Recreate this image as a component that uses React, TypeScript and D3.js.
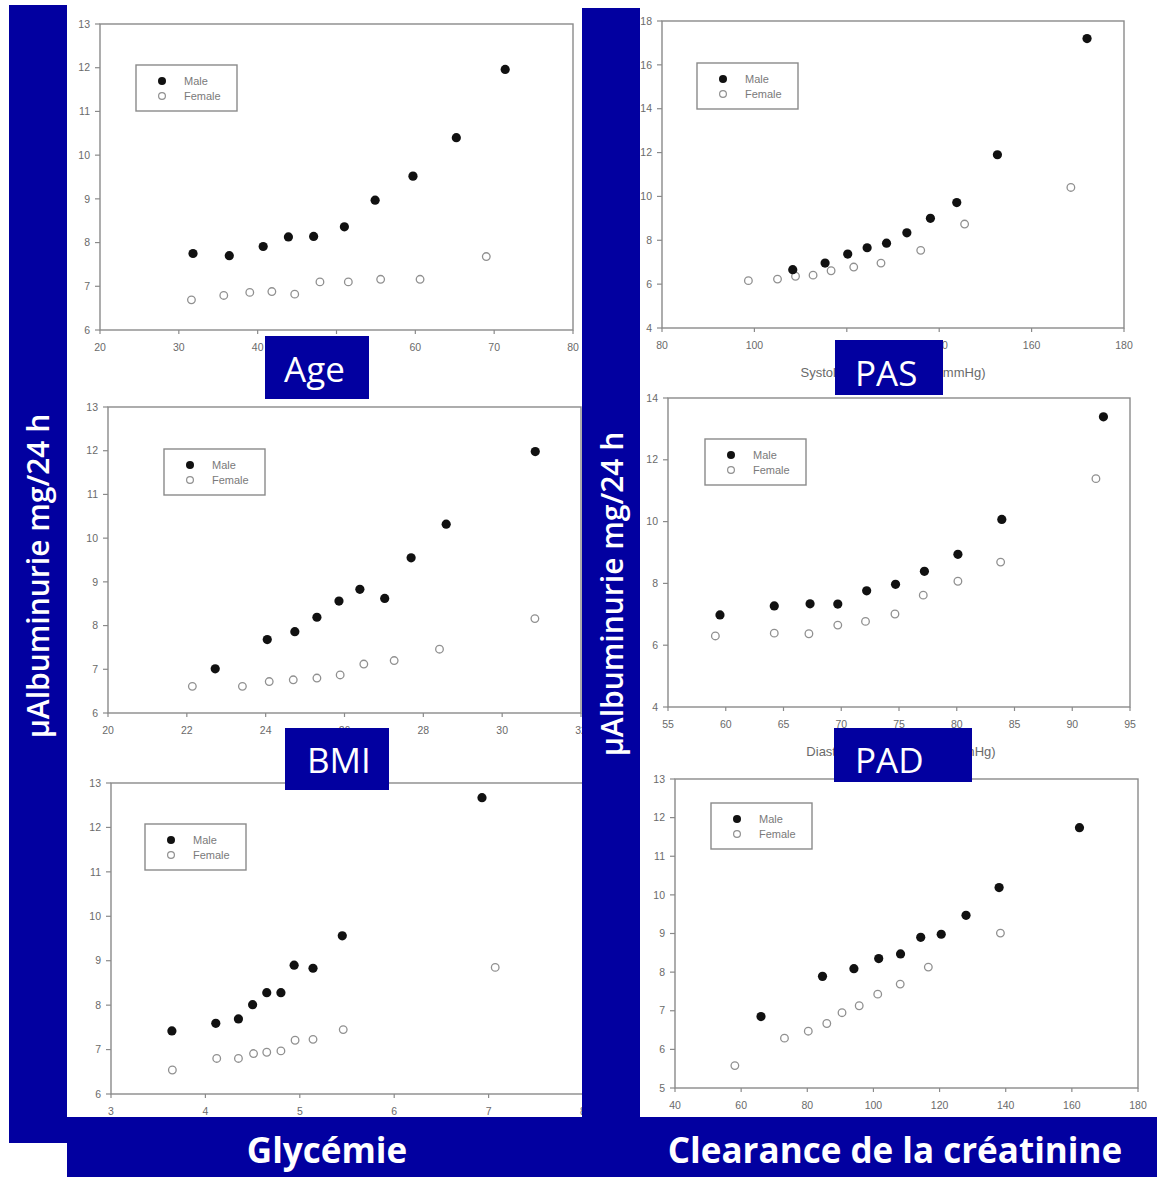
import React from "react";
import * as d3 from "d3";

// ---------- DATA ----------
const ageMale = [[31.8, 7.75], [36.4, 7.7], [40.7, 7.91], [43.9, 8.13], [47.1, 8.14], [51.0, 8.36], [54.9, 8.97], [59.7, 9.52], [65.2, 10.4], [71.4, 11.96]];
const ageFemale = [[31.6, 6.69], [35.7, 6.79], [39.0, 6.86], [41.8, 6.88], [44.7, 6.82], [47.9, 7.1], [51.5, 7.1], [55.6, 7.16], [60.6, 7.16], [69.0, 7.68]];

const pasMale = [[108.3, 6.66], [115.3, 6.96], [120.2, 7.37], [124.4, 7.66], [128.6, 7.87], [133.0, 8.34], [138.1, 9.0], [143.8, 9.72], [152.6, 11.9], [172.0, 17.2]];
const pasFemale = [[98.7, 6.16], [105.0, 6.23], [108.9, 6.36], [112.7, 6.41], [116.6, 6.61], [121.5, 6.78], [127.4, 6.96], [136.0, 7.54], [145.5, 8.74], [168.5, 10.41]];

const bmiMale = [[22.72, 7.01], [24.04, 7.68], [24.74, 7.86], [25.3, 8.19], [25.86, 8.56], [26.39, 8.83], [27.02, 8.62], [27.69, 9.55], [28.58, 10.32], [30.84, 11.98]];
const bmiFemale = [[22.14, 6.61], [23.41, 6.61], [24.09, 6.72], [24.7, 6.76], [25.3, 6.8], [25.89, 6.87], [26.49, 7.12], [27.26, 7.2], [28.41, 7.46], [30.83, 8.16]];

const padMale = [[59.5, 6.98], [64.2, 7.27], [67.3, 7.34], [69.7, 7.33], [72.2, 7.76], [74.7, 7.97], [77.2, 8.39], [80.1, 8.94], [83.9, 10.07], [92.7, 13.39]];
const padFemale = [[59.1, 6.3], [64.2, 6.39], [67.2, 6.37], [69.7, 6.65], [72.1, 6.77], [74.65, 7.01], [77.1, 7.62], [80.1, 8.07], [83.8, 8.69], [92.05, 11.39]];

const glyMale = [[3.645, 7.42], [4.11, 7.59], [4.35, 7.69], [4.5, 8.01], [4.65, 8.28], [4.8, 8.28], [4.94, 8.9], [5.14, 8.83], [5.45, 9.56], [6.93, 12.67]];
const glyFemale = [[3.65, 6.54], [4.12, 6.8], [4.35, 6.8], [4.51, 6.91], [4.65, 6.94], [4.8, 6.97], [4.95, 7.21], [5.14, 7.23], [5.46, 7.45], [7.07, 8.85]];

const clrMale = [[66.0, 6.85], [84.6, 7.89], [94.1, 8.09], [101.6, 8.35], [108.2, 8.47], [114.3, 8.9], [120.5, 8.98], [128.0, 9.47], [138.0, 10.19], [162.3, 11.74]];
const clrFemale = [[58.1, 5.58], [73.1, 6.29], [80.3, 6.47], [85.9, 6.67], [90.5, 6.95], [95.7, 7.13], [101.3, 7.43], [108.1, 7.69], [116.6, 8.13], [138.4, 9.01]];

const ageXTicks = [20, 30, 40, 50, 60, 70, 80];
const ageYTicks = [6, 7, 8, 9, 10, 11, 12, 13];
const pasXTicks = [80, 100, 120, 140, 160, 180];
const pasYTicks = [4, 6, 8, 10, 12, 14, 16, 18];
const bmiXTicks = [20, 22, 24, 26, 28, 30, 32];
const bmiYTicks = [6, 7, 8, 9, 10, 11, 12, 13];
const padXTicks = [55, 60, 65, 70, 75, 80, 85, 90, 95];
const padYTicks = [4, 6, 8, 10, 12, 14];
const glyXTicks = [3, 4, 5, 6, 7, 8];
const glyYTicks = [6, 7, 8, 9, 10, 11, 12, 13];
const clrXTicks = [40, 60, 80, 100, 120, 140, 160, 180];
const clrYTicks = [5, 6, 7, 8, 9, 10, 11, 12, 13];

const legendLabels = ["Male", "Female"];
const yAxisLabel = "µAlbuminurie mg/24 h";

// ---------- LAYOUT ----------
const BLUE = "#0200a0";
const GREY = "#8a8a8a";
const TXT = "#6a6a6a";

type Panel = {
  frame: [number, number, number, number];
  xTicks: number[];
  yTicks: number[];
  male: number[][];
  female: number[][];
  legend: [number, number];
  title?: { text: string; x: number; y: number };
};

const panels: Panel[] = [
  { frame: [100, 24, 573, 330], xTicks: ageXTicks, yTicks: ageYTicks, male: ageMale, female: ageFemale, legend: [136, 65] },
  { frame: [662, 21, 1124, 328], xTicks: pasXTicks, yTicks: pasYTicks, male: pasMale, female: pasFemale, legend: [697, 63], title: { text: "Systolic blood pressure (mmHg)", x: 893, y: 377 } },
  { frame: [108, 407, 581, 713], xTicks: bmiXTicks, yTicks: bmiYTicks, male: bmiMale, female: bmiFemale, legend: [164, 449] },
  { frame: [668, 398, 1130, 707], xTicks: padXTicks, yTicks: padYTicks, male: padMale, female: padFemale, legend: [705, 439], title: { text: "Diastolic blood pressure (mmHg)", x: 901, y: 756 } },
  { frame: [111, 783, 583, 1094], xTicks: glyXTicks, yTicks: glyYTicks, male: glyMale, female: glyFemale, legend: [145, 824] },
  { frame: [675, 779, 1138, 1088], xTicks: clrXTicks, yTicks: clrYTicks, male: clrMale, female: clrFemale, legend: [711, 803] },
];

const labelBoxes = [
  { text: "Age", x0: 265, y0: 336, x1: 369, y1: 399, tx: 284, ty: 382 },
  { text: "PAS", x0: 835, y0: 340, x1: 943, y1: 395, tx: 855, ty: 386 },
  { text: "BMI", x0: 285, y0: 728, x1: 389, y1: 790, tx: 307, ty: 773 },
  { text: "PAD", x0: 834, y0: 728, x1: 972, y1: 782, tx: 855, ty: 773 },
];

function ScatterPanel({ p }: { p: Panel }) {
  const [x0, y0, x1, y1] = p.frame;
  const xs = d3.scaleLinear().domain(d3.extent(p.xTicks) as [number, number]).range([x0, x1]);
  const ys = d3.scaleLinear().domain(d3.extent(p.yTicks) as [number, number]).range([y1, y0]);
  const [lx, ly] = p.legend;
  return (
    <g>
      <rect x={x0} y={y0} width={x1 - x0} height={y1 - y0} fill="#fff" stroke={GREY} strokeWidth={1.4} />
      {p.yTicks.map((t) => (
        <g key={"y" + t}>
          <line x1={x0 - 5} x2={x0} y1={ys(t)} y2={ys(t)} stroke={GREY} strokeWidth={1.2} />
          <text x={x0 - 10} y={ys(t)} dy="0.35em" textAnchor="end" fontSize={10.5} fill={TXT} fontFamily="Liberation Sans, Arial, sans-serif">{t}</text>
        </g>
      ))}
      {p.xTicks.map((t) => (
        <g key={"x" + t}>
          <line x1={xs(t)} x2={xs(t)} y1={y1} y2={y1 + 4} stroke={GREY} strokeWidth={1.2} />
          <text x={xs(t)} y={y1 + 21} textAnchor="middle" fontSize={10.5} fill={TXT} fontFamily="Liberation Sans, Arial, sans-serif">{t}</text>
        </g>
      ))}
      {p.title && (
        <text x={p.title.x} y={p.title.y} textAnchor="middle" fontSize={13} fill={TXT} fontFamily="Liberation Sans, Arial, sans-serif">{p.title.text}</text>
      )}
      {p.female.map((d, i) => (
        <circle key={"f" + i} cx={xs(d[0])} cy={ys(d[1])} r={3.8} fill="#fff" stroke="#909090" strokeWidth={1.3} />
      ))}
      {p.male.map((d, i) => (
        <circle key={"m" + i} cx={xs(d[0])} cy={ys(d[1])} r={4.6} fill="#111" />
      ))}
      <rect x={lx} y={ly} width={101} height={46} fill="#fff" stroke={GREY} strokeWidth={1.4} />
      <circle cx={lx + 26} cy={ly + 16} r={4} fill="#111" />
      <circle cx={lx + 26} cy={ly + 31} r={3.4} fill="#fff" stroke="#909090" strokeWidth={1.2} />
      <text x={lx + 48} y={ly + 16} dy="0.35em" fontSize={11} fill="#7a7a7a" fontFamily="Liberation Sans, Arial, sans-serif">{legendLabels[0]}</text>
      <text x={lx + 48} y={ly + 31} dy="0.35em" fontSize={11} fill="#7a7a7a" fontFamily="Liberation Sans, Arial, sans-serif">{legendLabels[1]}</text>
    </g>
  );
}

export default function App() {
  return (
    <svg width={1157} height={1177} style={{ position: "absolute", left: 0, top: 0, background: "#fff" }}>
      <rect x={0} y={0} width={1157} height={1177} fill="#fff" />
      {panels.map((p, i) => (
        <ScatterPanel key={i} p={p} />
      ))}
      {/* blue bars */}
      <rect x={9} y={5} width={58} height={1138} fill={BLUE} />
      <rect x={582} y={8} width={58} height={1114} fill={BLUE} />
      <rect x={67} y={1117} width={1090} height={60} fill={BLUE} />
      <text transform="translate(49,576) rotate(-90)" textAnchor="middle" fontSize={30} fontWeight={600} fill="#fff" fontFamily="Open Sans, sans-serif">{yAxisLabel}</text>
      <text transform="translate(623,594) rotate(-90)" textAnchor="middle" fontSize={30} fontWeight={600} fill="#fff" fontFamily="Open Sans, sans-serif">{yAxisLabel}</text>
      <text x={327} y={1163} textAnchor="middle" fontSize={35} fontWeight={700} fill="#fff" fontFamily="Open Sans, sans-serif">Glycémie</text>
      <text x={895} y={1163} textAnchor="middle" fontSize={35} fontWeight={700} fill="#fff" fontFamily="Open Sans, sans-serif">Clearance de la créatinine</text>
      {labelBoxes.map((b) => (
        <g key={b.text}>
          <rect x={b.x0} y={b.y0} width={b.x1 - b.x0} height={b.y1 - b.y0} fill={BLUE} />
          <text x={b.tx} y={b.ty} fontSize={35} fill="#fff" fontFamily="Open Sans, sans-serif">{b.text}</text>
        </g>
      ))}
    </svg>
  );
}
